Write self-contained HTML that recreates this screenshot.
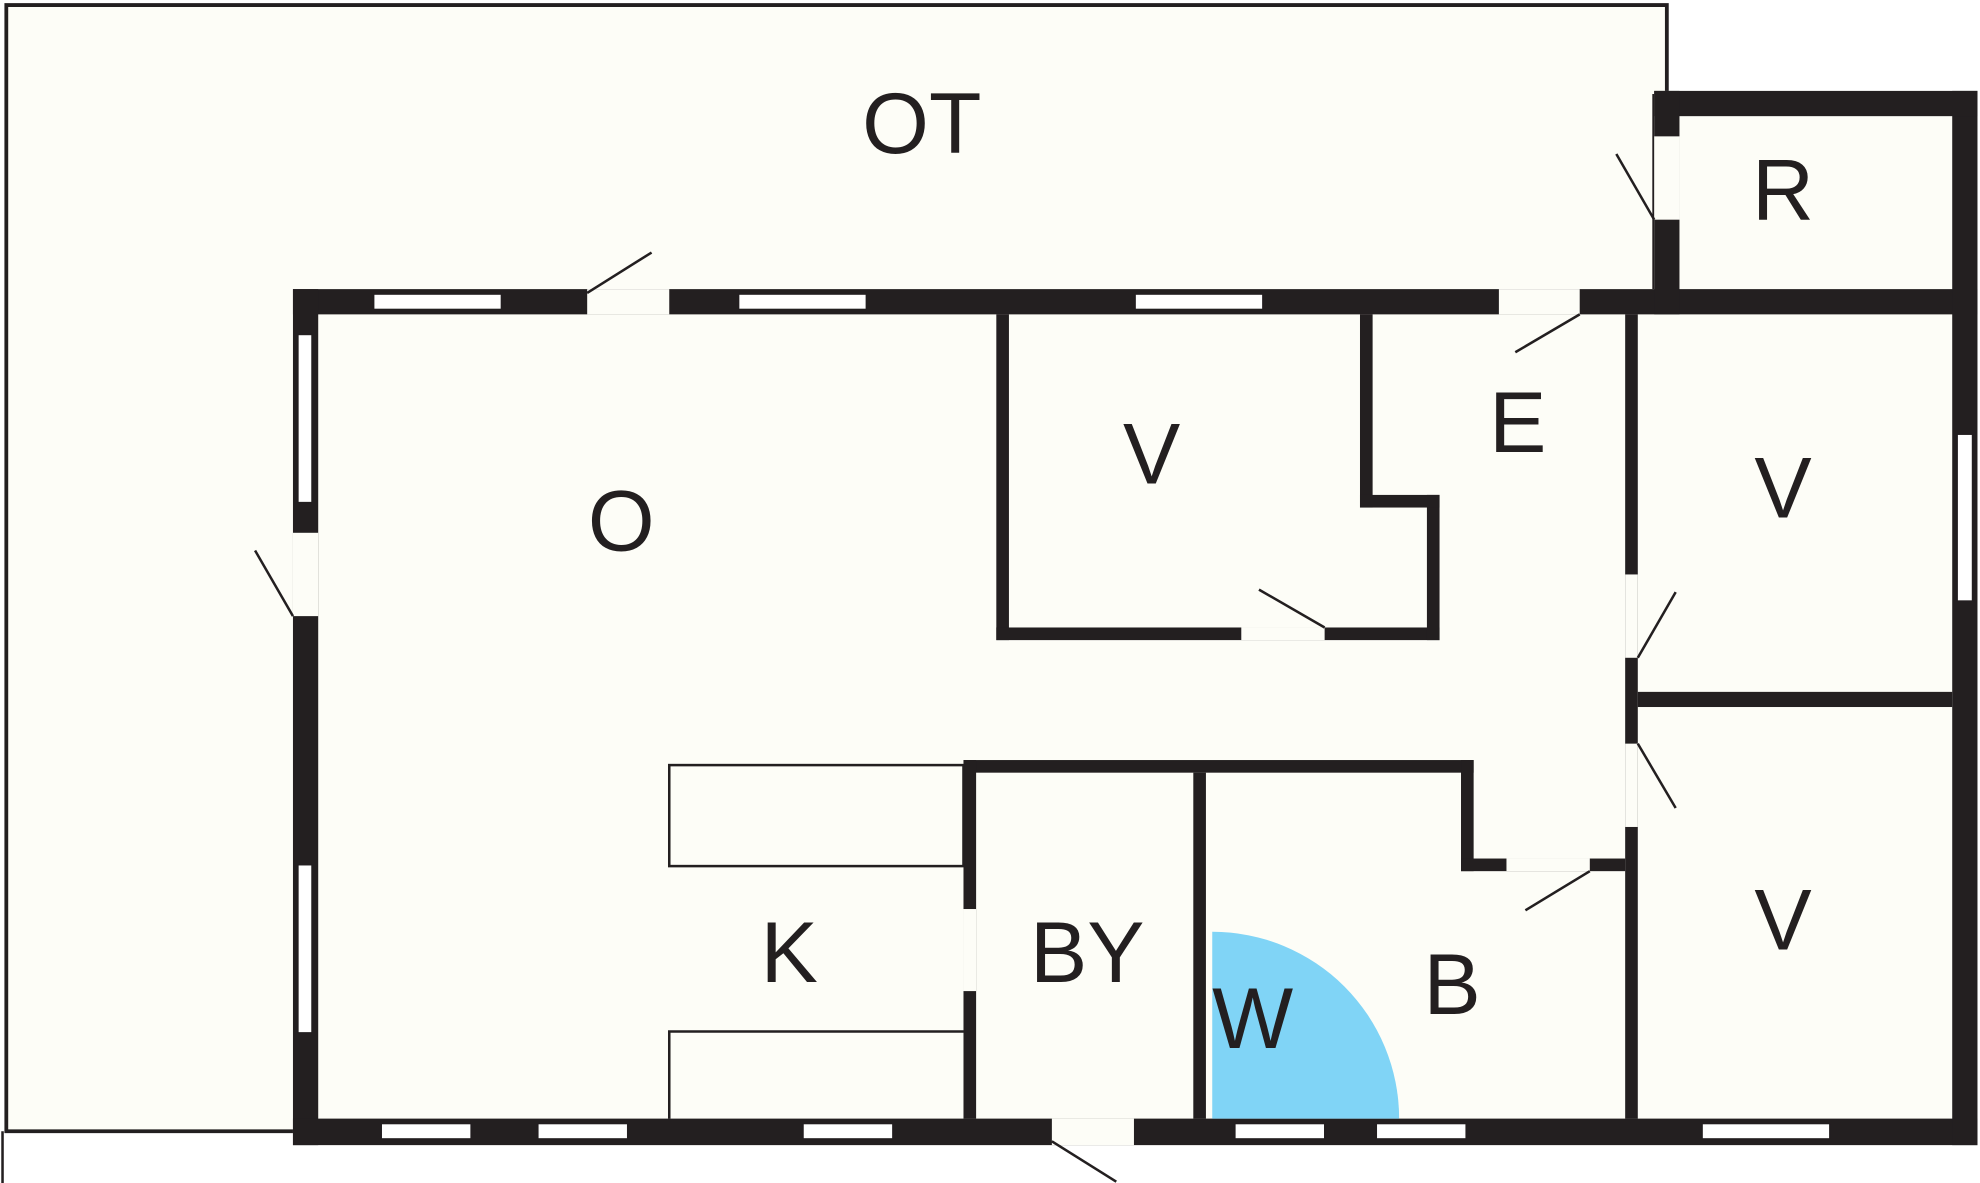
<!DOCTYPE html>
<html><head><style>html,body{margin:0;padding:0;background:#fff}svg{display:block}</style></head>
<body>
<svg width="1980" height="1183" viewBox="0 0 1568 937" preserveAspectRatio="none" xmlns="http://www.w3.org/2000/svg">
<rect width="1568" height="937" fill="#fff"/>
<!-- OT outline -->
<path d="M5,896 L5,4 L1320,4 L1320,76 L1310,76 L1310,239 L242,239 L242,896 Z" fill="#fdfdf7" stroke="#231f20" stroke-width="3"/>
<line x1="2" y1="896" x2="2" y2="937" stroke="#231f20" stroke-width="2"/>
<!-- room fills -->
<rect x="232" y="229" width="1334" height="678" fill="#fdfdf7"/>
<rect x="1310" y="72" width="256" height="177" fill="#fdfdf7"/>
<g fill="#231f20">
<!-- outer walls -->
<rect x="232" y="229" width="1334" height="20"/>
<rect x="232" y="229" width="20" height="678"/>
<rect x="232" y="886" width="1334" height="21"/>
<rect x="1546" y="72" width="20" height="835"/>
<rect x="1310" y="72" width="256" height="20"/>
<rect x="1310" y="72" width="20" height="177"/>
<!-- interior -->
<rect x="789" y="249" width="10" height="258"/>
<rect x="789" y="497" width="351" height="10"/>
<rect x="1130" y="392" width="10" height="115"/>
<rect x="1077" y="249" width="10" height="153"/>
<rect x="1077" y="392" width="63" height="10"/>
<rect x="1287" y="249" width="10" height="637"/>
<rect x="1297" y="548" width="249" height="12"/>
<rect x="763" y="602" width="404" height="10"/>
<rect x="763" y="602" width="10" height="284"/>
<rect x="945" y="612" width="10" height="274"/>
<rect x="1157" y="602" width="10" height="88"/>
<rect x="1157" y="680" width="130" height="10"/>
</g>
<!-- door gaps -->
<g fill="#fdfdf7">
<rect x="465" y="229" width="65" height="20"/>
<rect x="1187" y="229" width="64" height="20"/>
<rect x="232" y="422" width="20" height="66"/>
<rect x="983" y="497" width="66" height="10"/>
<rect x="1287" y="455" width="10" height="66"/>
<rect x="1287" y="589" width="10" height="66"/>
<rect x="763" y="720" width="10" height="65"/>
<rect x="1193" y="680" width="66" height="10"/>
<rect x="833" y="886" width="65" height="21"/>
<rect x="1310" y="108" width="20" height="66"/>
</g>
<!-- windows -->
<g fill="#fff" stroke="#231f20" stroke-width="1">
<rect x="296" y="233" width="101" height="12"/>
<rect x="585" y="233" width="101" height="12"/>
<rect x="899" y="233" width="101" height="12"/>
<rect x="236" y="265" width="11" height="133"/>
<rect x="236" y="685" width="11" height="133"/>
<rect x="302" y="890" width="71" height="12"/>
<rect x="426" y="890" width="71" height="12"/>
<rect x="636" y="890" width="71" height="12"/>
<rect x="978" y="890" width="71" height="12"/>
<rect x="1090" y="890" width="71" height="12"/>
<rect x="1348" y="890" width="101" height="12"/>
<rect x="1550" y="344" width="12" height="132"/>
</g>
<!-- counters -->
<g fill="none" stroke="#231f20" stroke-width="2">
<rect x="530" y="606" width="233" height="80"/>
<polyline points="763,817 530,817 530,886"/>
</g>
<!-- door swings -->
<g stroke="#231f20" stroke-width="2">
<line x1="465" y1="232" x2="516" y2="200"/>
<line x1="1251" y1="249" x2="1200" y2="279"/>
<line x1="232" y1="488" x2="202" y2="436"/>
<line x1="1049" y1="497" x2="997" y2="467"/>
<line x1="1297" y1="521" x2="1327" y2="469"/>
<line x1="1297" y1="589" x2="1327" y2="640"/>
<line x1="1259" y1="690" x2="1208" y2="721"/>
<line x1="833" y1="904" x2="884" y2="936"/>
<line x1="1310" y1="174" x2="1280" y2="122"/>
</g>
<path d="M960,886 L960,738 A148,148 0 0 1 1108,886 Z" fill="#80d4f6"/>
<g font-family="Liberation Sans, sans-serif" font-size="68" fill="#231f20" text-anchor="middle">
<text x="730" y="121">OT</text>
<text x="1412" y="174">R</text>
<text x="492" y="436">O</text>
<text x="912" y="383">V</text>
<text x="1202" y="358">E</text>
<text x="1412" y="410">V</text>
<text x="1412" y="752">V</text>
<text x="625" y="778">K</text>
<text x="861" y="778">BY</text>
<text x="992" y="830">W</text>
<text x="1150" y="803">B</text>
</g>
</svg>
</body></html>
